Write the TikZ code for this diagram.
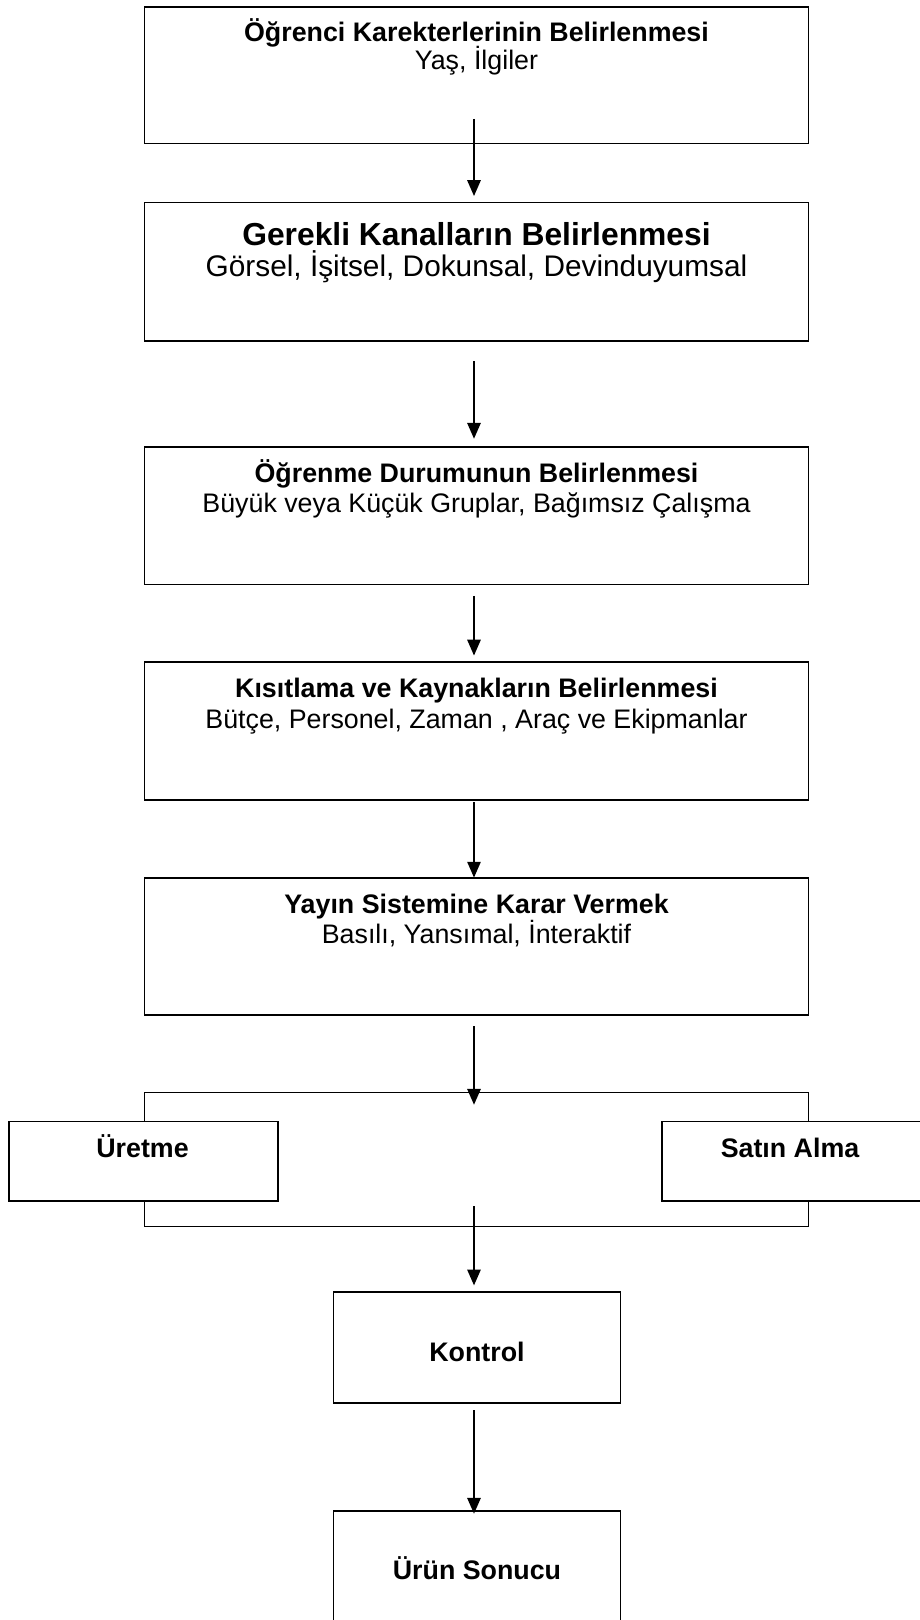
\documentclass[tikz,border=0pt]{standalone}
\usepackage{fontspec}
\setmainfont{Liberation Sans}
\usetikzlibrary{arrows.meta}
\tikzset{
  box/.style={draw, line width=1.8pt, inner sep=0pt, outer sep=0pt},
  ttl/.style={font=\fontsize{26.8}{30}\selectfont\bfseries, inner sep=0pt, anchor=base},
  sub/.style={font=\fontsize{26.8}{30}\selectfont, inner sep=0pt, anchor=base},
  ttlbig/.style={font=\fontsize{31.8}{36}\selectfont\bfseries, inner sep=0pt, anchor=base},
  subbig/.style={font=\fontsize{29.8}{34}\selectfont, inner sep=0pt, anchor=base},
  arr/.style={line width=2.8pt, -{Triangle[width=13pt,length=16pt]}},
  conn/.style={line width=1.4pt}
}
\begin{document}
\begin{tikzpicture}[x=1pt,y=-1pt]
\useasboundingbox (0,0) rectangle (919,1620);
% main boxes
\node[box, minimum width=663.9pt, minimum height=136.3pt] (b1) at (476.5,75.4) {};
\node[box, minimum width=663.9pt, minimum height=138.4pt] (b2) at (476.5,271.6) {};
\node[box, minimum width=663.9pt, minimum height=137.4pt] (b3) at (476.5,515.8) {};
\node[box, minimum width=663.9pt, minimum height=138.4pt] (b4) at (476.5,731.1) {};
\node[box, minimum width=663.9pt, minimum height=137.3pt] (b5) at (476.5,946.4) {};
\node[box, minimum width=268.5pt, minimum height=79.6pt] (ure) at (143.5,1161.2) {};
\node[box, minimum width=263.1pt, minimum height=79.6pt] (sat) at (793.5,1161.2) {};
\node[box, minimum width=287.1pt, minimum height=111.5pt] (kon) at (477.0,1347.5) {};
\node[box, minimum width=287.1pt, minimum height=130pt] (urun) at (477.0,1575.7) {};
% texts
\node[ttl] (t1) at (476.5,41) {Öğrenci Karekterlerinin Belirlenmesi};
\node[sub] (s1) at (476.5,69) {Yaş, İlgiler};
\node[ttlbig] (t2) at (476.5,245) {Gerekli Kanalların Belirlenmesi};
\node[subbig] (s2) at (476.5,276) {Görsel, İşitsel, Dokunsal, Devinduyumsal};
\node[ttl] (t3) at (476.5,482) {Öğrenme Durumunun Belirlenmesi};
\node[sub] (s3) at (476.5,512) {Büyük veya Küçük Gruplar, Bağımsız Çalışma};
\node[ttl] (t4) at (476.5,697) {Kısıtlama ve Kaynakların Belirlenmesi};
\node[sub] (s4) at (476.5,728) {Bütçe, Personel, Zaman , Araç ve Ekipmanlar};
\node[ttl] (t5) at (476.5,913) {Yayın Sistemine Karar Vermek};
\node[sub] (s5) at (476.5,943) {Basılı, Yansımal, İnteraktif};
\node[ttl] (tu) at (142.5,1157) {Üretme};
\node[ttl] (ts) at (790,1157) {Satın Alma};
\node[ttl] (tk) at (477,1361) {Kontrol};
\node[ttl] (tr) at (477,1579) {Ürün Sonucu};
% branch connectors
\coordinate (tl) at (144.6,1092.5);
\coordinate (trr) at (808.5,1092.5);
\coordinate (bl) at (144.6,1226.7);
\coordinate (br) at (808.5,1226.7);
\draw[conn] (ure.north -| tl) -- (tl) -- (trr) -- (sat.north -| trr);
\draw[conn] (ure.south -| bl) -- (bl) -- (br) -- (sat.south -| br);
% arrows
\draw[arr] ([xshift=-2.5pt,yshift=24.8pt]b1.south) -- ([xshift=-2.5pt,yshift=6.2pt]b2.north);
\draw[arr] ([xshift=-2.5pt,yshift=-20.6pt]b2.south) -- ([xshift=-2.5pt,yshift=8.2pt]b3.north);
\draw[arr] ([xshift=-2.5pt,yshift=-11.3pt]b3.south) -- ([xshift=-2.5pt,yshift=6.2pt]b4.north);
\draw[arr] ([xshift=-2.5pt,yshift=-2pt]b4.south) -- ([xshift=-2.5pt,yshift=0pt]b5.north);
\draw[arr] ([xshift=-2.5pt,yshift=-11.4pt]b5.south) -- ([xshift=-2.5pt,yshift=-12.4pt]tl -| b5.south);
\draw[arr] ([xshift=-2.5pt,yshift=-5pt]ure.south -| b5.south) -- ([yshift=6.2pt,xshift=-3pt]kon.north);
\draw[arr] ([xshift=-3pt,yshift=-7.2pt]kon.south) -- ([xshift=-3pt,yshift=-3.2pt]urun.north);
\end{tikzpicture}
\end{document}
